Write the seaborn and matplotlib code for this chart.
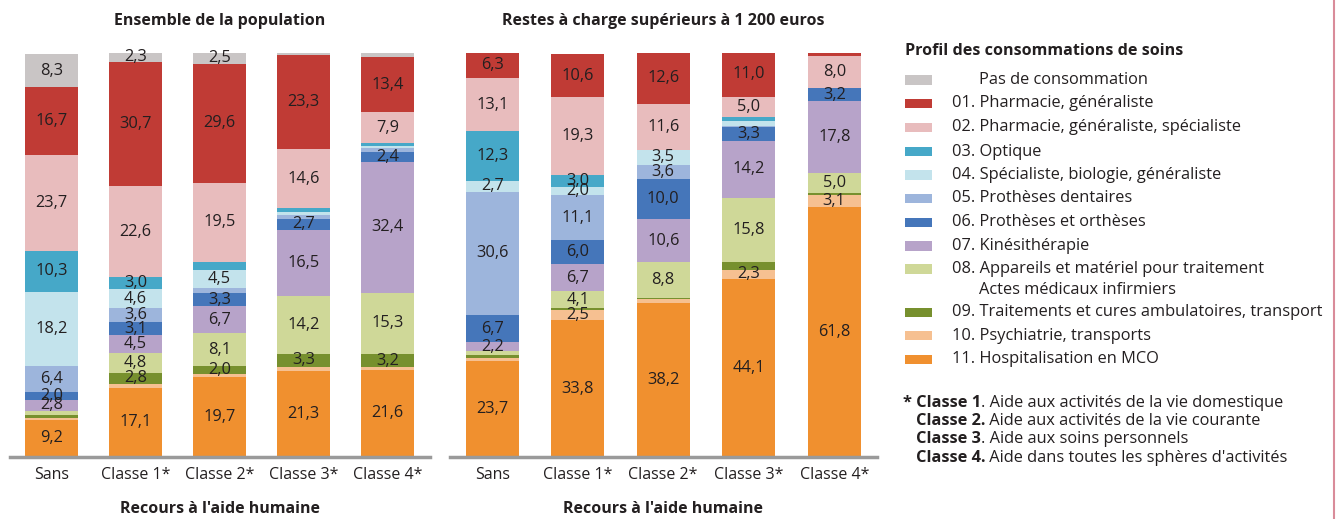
import numpy as np
import pandas as pd
import matplotlib
matplotlib.use("Agg")
import matplotlib.pyplot as plt
from matplotlib.patches import Rectangle
import seaborn as sns

groups = ["Sans", "Classe 1*", "Classe 2*", "Classe 3*", "Classe 4*"]

# segments from top (Pas de consommation) to bottom (11. Hospitalisation)
seg_keys = ["pas", "c01", "c02", "c03", "c04", "c05", "c06", "c07", "c08", "c09", "c10", "c11"]
seg_colors = ["#c9c5c5", "#c03b35", "#e8bcbd", "#46a8c8", "#c3e3ec", "#9db5dc",
              "#4576ba", "#b7a3c9", "#cfd898", "#77902e", "#f6c091", "#f0902f"]
legend_labels = ["Pas de consommation", "01. Pharmacie, généraliste",
                 "02. Pharmacie, généraliste, spécialiste", "03. Optique",
                 "04. Spécialiste, biologie, généraliste", "05. Prothèses dentaires",
                 "06. Prothèses et orthèses", "07. Kinésithérapie",
                 "08. Appareils et matériel pour traitement",
                 "09. Traitements et cures ambulatoires, transport",
                 "10. Psychiatrie, transports", "11. Hospitalisation en MCO"]

# Ensemble de la population (%)
pop_pas = [8.3, 2.3, 2.5, 0.7, 1.0]
pop_c01 = [16.7, 30.7, 29.6, 23.3, 13.4]
pop_c02 = [23.7, 22.6, 19.5, 14.6, 7.9]
pop_c03 = [10.3, 3.0, 1.9, 1.0, 0.6]
pop_c04 = [18.2, 4.6, 4.5, 0.8, 0.6]
pop_c05 = [6.4, 3.6, 1.3, 0.8, 0.9]
pop_c06 = [2.0, 3.1, 3.3, 2.7, 2.4]
pop_c07 = [2.8, 4.5, 6.7, 16.5, 32.4]
pop_c08 = [1.0, 4.8, 8.1, 14.2, 15.3]
pop_c09 = [0.7, 2.8, 2.0, 3.3, 3.2]
pop_c10 = [0.5, 1.0, 0.8, 1.0, 0.6]
pop_c11 = [9.2, 17.1, 19.7, 21.3, 21.6]

# Restes à charge supérieurs à 1 200 euros (%)
rac_pas = [0.0, 0.0, 0.0, 0.0, 0.0]
rac_c01 = [6.3, 10.6, 12.6, 11.0, 1.0]
rac_c02 = [13.1, 19.3, 11.6, 5.0, 8.0]
rac_c03 = [12.3, 3.0, 0.0, 1.0, 0.0]
rac_c04 = [2.7, 2.0, 3.5, 1.3, 0.0]
rac_c05 = [30.6, 11.1, 3.6, 0.3, 0.0]
rac_c06 = [6.7, 6.0, 10.0, 3.3, 3.2]
rac_c07 = [2.2, 6.7, 10.6, 14.2, 17.8]
rac_c08 = [1.0, 4.1, 8.8, 15.8, 5.0]
rac_c09 = [0.6, 0.6, 0.3, 1.9, 0.4]
rac_c10 = [0.9, 2.5, 0.9, 2.3, 3.1]
rac_c11 = [23.7, 33.8, 38.2, 44.1, 61.8]

pop = pd.DataFrame(dict(zip(seg_keys, [pop_pas, pop_c01, pop_c02, pop_c03, pop_c04, pop_c05,
                                       pop_c06, pop_c07, pop_c08, pop_c09, pop_c10, pop_c11])),
                   index=groups)
rac = pd.DataFrame(dict(zip(seg_keys, [rac_pas, rac_c01, rac_c02, rac_c03, rac_c04, rac_c05,
                                       rac_c06, rac_c07, rac_c08, rac_c09, rac_c10, rac_c11])),
                   index=groups)

sns.set_style("white")
plt.rcParams["font.family"] = ["Open Sans", "DejaVu Sans"]
TXT = "#231f20"
FS = 11.8

W, H = 1340, 519
fig = plt.figure(figsize=(W / 100, H / 100), dpi=100)


def px_axes(x0, x1, ytop, ybot):
    return fig.add_axes([x0 / W, 1 - ybot / H, (x1 - x0) / W, (ybot - ytop) / H])


def stacked(ax, df, title, width):
    # stack from bottom category (c11) upward, draw tallest cumulative first
    order = seg_keys[::-1]
    cum = df[order].cumsum(axis=1)
    for key in seg_keys:
        col = seg_colors[seg_keys.index(key)]
        d = pd.DataFrame({"g": groups, "v": cum[key].values})
        sns.barplot(data=d, x="g", y="v", color=col, saturation=1, width=width,
                    errorbar=None, linewidth=0, ax=ax)
    for i, g in enumerate(groups):
        for key in order:
            v = df.loc[g, key]
            if v >= 2.0:
                mid = cum.loc[g, key] - v / 2
                ax.text(i, mid, f"{v:.1f}".replace(".", ","), ha="center", va="center",
                        fontsize=FS, color=TXT)
    ax.set_xlim(-0.5, 4.5)
    ax.set_ylim(0, 100)
    ax.set_yticks([])
    ax.set_ylabel("")
    ax.set_xlabel("Recours à l'aide humaine", fontsize=11.5, fontweight="bold", color=TXT,
                  labelpad=13)
    ax.set_title(title, fontsize=11.5, fontweight="bold", color=TXT, pad=20)
    ax.tick_params(axis="x", length=0, labelsize=11.5, labelcolor=TXT, pad=7)
    for s in ["top", "right", "left"]:
        ax.spines[s].set_visible(False)
    ax.spines["bottom"].set_color("#9a9a9a")
    ax.spines["bottom"].set_linewidth(2.5)


ax1 = px_axes(9.5, 429.5, 53, 457)
stacked(ax1, pop, "Ensemble de la population", 0.63)
ax2 = px_axes(449.5, 877, 53, 457)
stacked(ax2, rac, "Restes à charge supérieurs à 1 200 euros", 0.62)

# legend
fig.text(905 / W, 1 - 51 / H, "Profil des consommations de soins", fontsize=11.6,
         fontweight="bold", color=TXT, va="center", ha="left")
rows_y = [80, 103.3, 127.3, 151.7, 175, 198.3, 222.3, 246, 269, 312.3, 335.7, 359.3]
for lab, col, y in zip(legend_labels, seg_colors, rows_y):
    fig.patches.append(Rectangle((905 / W, 1 - (y + 4.7) / H), 27 / W, 9.4 / H,
                                 transform=fig.transFigure, facecolor=col, edgecolor="none"))
    x = 979 if lab.startswith("Pas") else 952
    fig.text(x / W, 1 - y / H, lab, fontsize=FS, color=TXT, va="center", ha="left")
fig.text(979 / W, 1 - 290.5 / H, "Actes médicaux infirmiers", fontsize=FS, color=TXT,
         va="center", ha="left")

# footnote
notes = [("* Classe 1", ". Aide aux activités de la vie domestique", 903, 403),
         ("Classe 2.", " Aide aux activités de la vie courante", 916, 421),
         ("Classe 3", ". Aide aux soins personnels", 916, 439),
         ("Classe 4.", " Aide dans toutes les sphères d'activités", 916, 458)]
renderer = fig.canvas.get_renderer()
for bold, rest, x, y in notes:
    t = fig.text(x / W, 1 - y / H, bold, fontsize=FS, fontweight="bold", color=TXT,
                 va="center", ha="left")
    bb = t.get_window_extent(renderer=renderer)
    fig.text(bb.x1 / W, 1 - y / H, rest, fontsize=FS, color=TXT, va="center", ha="left")

# pink frame line at right edge
fig.add_artist(plt.Line2D([1334 / W, 1334 / W], [0, 1], color="#d98c9a", linewidth=1.5,
                          transform=fig.transFigure))

fig.savefig("out.png", dpi=100)
